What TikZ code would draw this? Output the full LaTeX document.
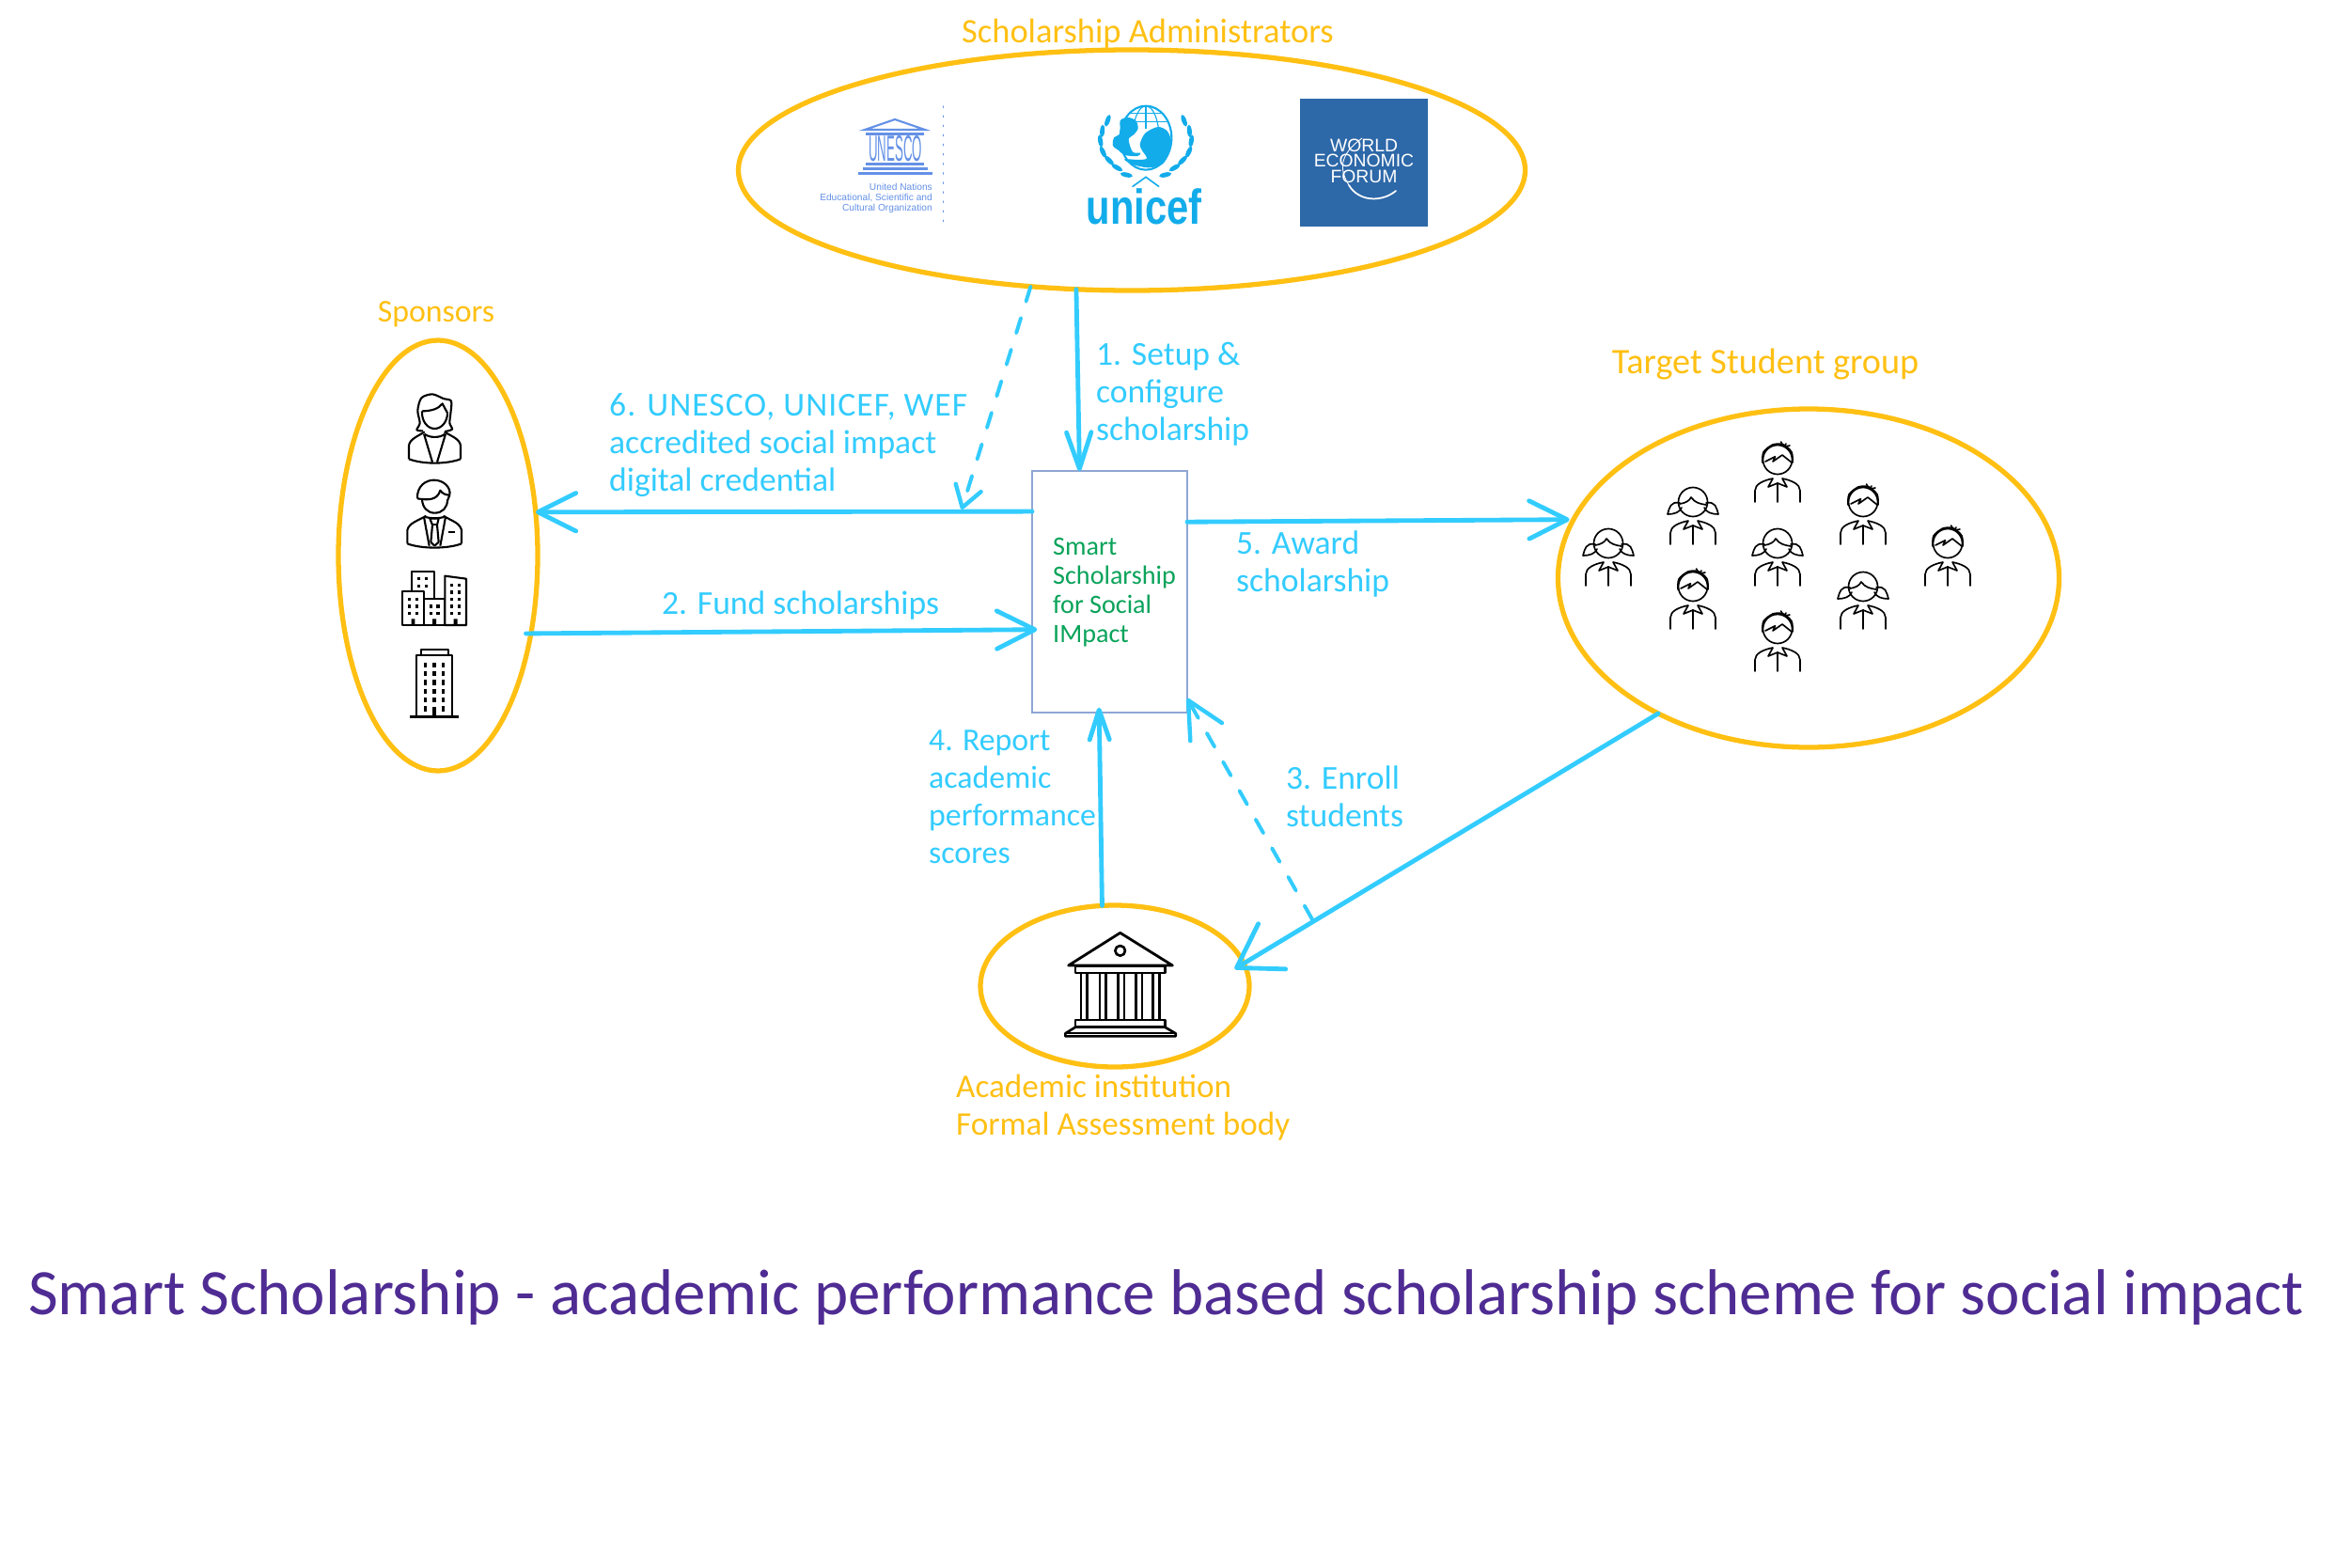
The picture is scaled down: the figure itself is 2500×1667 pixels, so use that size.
\documentclass[tikz,border=0pt]{standalone}
\usepackage{fontspec}
\setmainfont{Carlito}
\newfontfamily\logofont{Liberation Sans}
\usetikzlibrary{arrows.meta,shapes.geometric}
\definecolor{ringyellow}{HTML}{FFC013}
\definecolor{flowblue}{HTML}{33CCFF}
\definecolor{hubgreen}{HTML}{0AA35A}
\definecolor{titlepurple}{HTML}{4F2C93}
\definecolor{hubedge}{HTML}{8EA6D4}
\definecolor{unescoblue}{HTML}{6491E6}
\definecolor{unicefblue}{HTML}{12ACEA}
\definecolor{wefblue}{HTML}{2D68A8}
\newcommand{\strutA}{\rule{0pt}{31.9pt}}
\newcommand{\strutB}{\rule{0pt}{24pt}}
\newcommand{\strutC}{\rule{0pt}{17pt}}
\tikzset{
  ring/.style={ellipse,draw=ringyellow,line width=6pt,inner sep=0pt,outer sep=0pt},
  hubbox/.style={rectangle,draw=hubedge,line width=1.5pt,inner sep=0pt,outer sep=0pt,minimum width=165*0.04cm,minimum height=257*0.04cm},
  flow/.style={draw=flowblue,line width=5.5pt,line cap=round,-{Straight Barb[length=46pt,width=46pt,line width=5.5pt,round]}},
  narrowflow/.style={flow,-{Straight Barb[length=44pt,width=30pt,line width=5.5pt,round]}},
  wideflow/.style={flow,-{Straight Barb[length=50pt,width=64pt,line width=5.5pt,round]}},
  shortflow/.style={flow,-{Straight Barb[length=36pt,width=24pt,line width=5.5pt,round]}},
  dashflow/.style={draw=flowblue,line width=4.5pt,line cap=round,dash pattern=on 19pt off 21pt,-{Straight Barb[length=44pt,width=44pt,line width=5pt,round]}},
  shortdashflow/.style={dashflow,-{Straight Barb[length=25pt,width=32pt,line width=5pt,round]}},
  flowlab/.style={inner sep=0pt,anchor=north west,align=left,text=flowblue,font=\fontsize{40.5}{45.5}\selectfont},
  ringlab/.style={inner sep=0pt,align=left,text=ringyellow,font=\fontsize{40}{45.5}\selectfont},
  hublab/.style={inner sep=0pt,anchor=north west,align=left,text=hubgreen,font=\fontsize{32}{35.3}\selectfont},
  titlelab/.style={inner sep=0pt,anchor=base west,text=titlepurple,font=\fontsize{78.5}{80}\selectfont},
  icon/.style={draw=black,line width=2.4pt,line join=round,fill=none},
  thinicon/.style={draw=black,line width=1.9pt,line cap=round,line join=round},
  win/.style={fill=black,draw=none},
  pics/boy/.style={code={
    \draw[thinicon] (0,0) circle (15.5);
    \draw[thinicon] plot[smooth] coordinates {(-16,3) (-15,-8) (-5,-16) (6,-16) (15,-8) (16,3)};
    \draw[thinicon] (-13,2) -- (-2.5,-3.3) -- (-5,2) -- (5,-5) -- (15,3);
    \draw[thinicon] (3.5,-19) -- (6,-15) (9,-17) -- (7,-14) (13,-15) -- (8,-14);
    \draw[thinicon] (-24,45) -- (-24,33) .. controls (-24,26) and (-15,22) .. (-5,20) -- (-10,29) -- (0,25) -- (10,29) -- (5,20) .. controls (15,22) and (24,26) .. (24,33) -- (24,45);
    \draw[thinicon] (0,25) -- (0,45);
  }},
  pics/girl/.style={code={
    \draw[thinicon] (0,0) circle (15.5);
    \draw[thinicon] (-14,2) .. controls (-8,1) and (-4,-1) .. (-2,-5) .. controls (2,1) and (8,2) .. (14,3);
    \draw[thinicon] (-14,1) .. controls (-24,-1) and (-25,6) .. (-27,13) .. controls (-20,13) and (-14,11) .. (-12,6);
    \draw[thinicon] (14,1) .. controls (24,-1) and (25,6) .. (27,13) .. controls (20,13) and (14,11) .. (12,6);
    \draw[thinicon] (-24,45) -- (-24,33) .. controls (-24,26) and (-15,22) .. (-5,20) -- (-10,29) -- (0,25) -- (10,29) -- (5,20) .. controls (15,22) and (24,26) .. (24,33) -- (24,45);
    \draw[thinicon] (0,25) -- (0,45);
  }}
}
\begin{document}
\begin{tikzpicture}[x=0.04cm,y=-0.04cm]
\useasboundingbox (0,0) rectangle (2500,1667);
\fill[white] (0,0) rectangle (2500,1667);

% rings
\node[ring,minimum width=837*0.04cm,minimum height=256*0.04cm] (admin) at (1204,181) {};
\node[ring,minimum width=212*0.04cm,minimum height=458*0.04cm] (sponsors) at (466,591) {};
\node[ring,minimum width=533*0.04cm,minimum height=360*0.04cm] (target) at (1924,615) {};
\node[ring,minimum width=286*0.04cm,minimum height=172*0.04cm] (academic) at (1186,1049) {};
\node[hubbox] (hub) at (1180.5,629.5) {};
\coordinate (dashtip) at (1023,542);
\coordinate (enrollstart) at (1396,978);

% connectors
\draw[narrowflow] (admin.245.4) -- (hub.104.6);
\draw[shortdashflow] (admin.229.2) -- (dashtip);
\draw[flow] (hub.134.7) -- (sponsors.24);
\draw[flow,shorten <=-6pt,shorten >=-6pt] (sponsors.-40.2) -- (hub.206.7);
\draw[flow,shorten >=5pt] (hub.42.1) -- (target.166.7);
\draw[wideflow,shorten >=-13pt] (target.222.5) -- (academic.10.7);
\draw[shortflow,shorten >=-6pt] (academic.99.3) -- (hub.265.8);
\draw[dashflow] (enrollstart) -- (hub.-54.8);

% labels
\node[ringlab,anchor=base,font=\fontsize{41.5}{45.5}\selectfont] (adminlab) at (1221,45) {Scholarship Administrators};
\node[ringlab,anchor=base,font=\fontsize{38.5}{45.5}\selectfont] (sponsorlab) at (464,342) {Sponsors};
\node[ringlab,anchor=base,font=\fontsize{43.5}{45.5}\selectfont] (targetlab) at (1878,397) {Target Student group};
\node[ringlab,anchor=north west] (acadlab) at (1017,1139) {\strutA Academic institution\\Formal Assessment body};
\node[flowlab] (lab1) at (1166,360) {\strutA 1. Setup \&\\configure\\scholarship};
\node[flowlab] (lab6) at (648,414) {\strutA \addfontfeatures{LetterSpace=3}6. UNESCO, UNICEF, WEF\\accredited social impact\\digital credential};
\node[flowlab] (lab2) at (704,625) {\strutA 2. Fund scholarships};
\node[flowlab] (lab5) at (1315,561) {\strutA 5. Award\\scholarship};
\node[flowlab,font=\fontsize{38.5}{45.5}\selectfont] (lab4) at (988,770) {\strutA 4. Report\\academic\\performance\\scores};
\node[flowlab] (lab3) at (1368,811) {\strutA 3. Enroll\\students};
\node[hublab] (hublabel) at (1120,569) {\strutB Smart\\Scholarship\\for Social\\IMpact};
\node[titlelab] (title) at (30,1398) {Smart Scholarship - academic performance based scholarship scheme for social impact};

% UNESCO logo
\begin{scope}[unescoblue]
  \draw[line width=2.4pt,line join=miter] (920,138) -- (952,127) -- (984,138) -- cycle;
  \fill (921,141) rectangle (983,143.5);
  \node[inner sep=0pt,text=unescoblue] (unescoword) at (952.5,158.5) {\logofont\scalebox{0.72}[2.1]{\fontsize{21}{21}\selectfont UNESCO}};
  \fill (921,173) rectangle (983,175.5);
  \fill (918,178) rectangle (987,180.5);
  \fill (913,183) rectangle (992,186);
  \draw[line width=1.6pt,line cap=round,dash pattern=on 1.5pt off 10pt] (1003.5,113) -- (1003.5,238);
  \node[inner sep=0pt,anchor=north east,align=right,text=unescoblue,font=\logofont\fontsize{11.6}{12.6}\selectfont] (unescotext) at (992,195) {United Nations\\Educational, Scientific and\\Cultural Organization};
\end{scope}

% UNICEF logo (crop coordinates, 3 units per pixel)
\begin{scope}[shift={(1150,100)},x=0.04cm/3,y=-0.04cm/3,unicefblue]
  \draw[line width=2.4pt] (207,140) ellipse (82 and 102);
  \begin{scope}
    \clip (120,35) rectangle (295,108);
    \draw[line width=1.3pt] (207,140) ellipse (42 and 102);
    \draw[line width=1.3pt] (207,38) -- (207,110);
    \draw[line width=1.3pt] (155,62) -- (260,62) (175,88) -- (280,88);
  \end{scope}
  \fill plot[smooth cycle] coordinates {(125,85) (150,75) (175,85) (182,110) (168,130) (152,145) (165,185) (190,188) (180,198) (140,195) (120,180) (102,165) (105,140) (125,125)};
  \fill plot[smooth cycle] coordinates {(245,105) (275,118) (287,150) (278,195) (258,225) (215,235) (165,225) (138,208) (185,210) (210,205) (195,180) (188,160) (205,125)};
  \foreach \lfx/\lfy/\lfr in {85/85/-20,68/118/-5,62/150/10,70/185/25,90/212/45,115/235/60,145/258/78} {
    \pgfmathsetmacro{\lfm}{414-\lfx}
    \fill[shift={(\lfx,\lfy)},rotate=\lfr] (0,0) ellipse (7.5 and 20);
    \fill[shift={(\lfm,\lfy)},rotate=-\lfr] (0,0) ellipse (7.5 and 20);
  }
  \draw[line width=1.8pt,line cap=round] (165,295) -- (207,265) -- (248,295);
  \node[inner sep=0pt,anchor=base,text=unicefblue] (unicefword) at (201,415) {\logofont\bfseries\fontsize{54}{54}\selectfont\scalebox{0.88}[1.1]{unicef}};
\end{scope}

% WEF logo
\fill[wefblue] (1383,105) rectangle (1519,241);
\node[inner sep=0pt,anchor=north,align=center,text=white,font=\logofont\fontsize{22}{19}\selectfont] (weftext) at (1451,146) {\strutC WORLD\\ECONOMIC\\FORUM};
\draw[white,line width=1pt] (1449,147) .. controls (1431,160) and (1421,175) .. (1435,197);
\draw[white,line width=2pt,line cap=round] (1435,197) .. controls (1445,214) and (1469,216) .. (1485,203);

% sponsors icons (crop coordinates, 3 units per pixel)
\begin{scope}[shift={(350,350)},x=0.04cm/3,y=-0.04cm/3]
  % woman
  \draw[icon] plot[smooth] coordinates {(300,325) (280,322) (290,300) (283,260) (295,220) (330,208) (365,222) (390,230) (388,270) (385,300) (393,320) (370,327)};
  \draw[icon] (297,262) .. controls (325,262) and (350,255) .. (362,238) .. controls (368,250) and (374,260) .. (378,268);
  \draw[icon] (297,262) .. controls (295,295) and (315,318) .. (337,318) .. controls (360,318) and (378,295) .. (378,268);
  \draw[icon] (255,415) -- (255,372) .. controls (258,350) and (285,342) .. (305,328);
  \draw[icon] (420,415) -- (420,372) .. controls (417,350) and (390,342) .. (368,328);
  \draw[icon] (255,415) .. controls (300,432) and (375,432) .. (420,415);
  \draw[icon] (303,335) -- (330,425) (372,335) -- (345,425) (305,335) .. controls (320,348) and (355,348) .. (370,335);
  % man
  \draw[icon] (282,541) .. controls (280,500) and (310,482) .. (335,482) .. controls (365,482) and (390,505) .. (385,530) -- (378,548);
  \draw[icon] (282,541) .. controls (310,545) and (345,550) .. (355,515) .. controls (362,525) and (372,530) .. (385,530);
  \draw[icon] (297,543) .. controls (298,570) and (315,587) .. (337,587) .. controls (362,587) and (378,570) .. (378,545);
  \draw[icon] (250,685) -- (250,642) .. controls (255,618) and (285,612) .. (310,596);
  \draw[icon] (423,685) -- (423,642) .. controls (418,618) and (390,612) .. (365,596);
  \draw[icon] (250,685) .. controls (295,702) and (378,702) .. (423,685);
  \draw[icon] (303,600) -- (320,692) (372,600) -- (355,692) (308,600) .. controls (325,605) and (350,605) .. (367,600);
  \draw[icon] (322,605) -- (350,605) -- (345,625) -- (350,680) -- (337,692) -- (325,680) -- (330,625) -- cycle;
  \draw[icon] (330,625) -- (345,625) (380,648) -- (402,648);
  % office cluster
  \draw[icon] (265,838) -- (265,773) -- (335,773) -- (335,860);
  \draw[icon] (233,838) rectangle (303,945);
  \draw[icon] (303,860) rectangle (370,945);
  \draw[icon] (370,945) -- (370,788) -- (438,797) -- (438,945) -- cycle;
  \foreach \wx/\wy in {287/797,310/797,287/820,310/820,257/862,280/862,257/885,280/885,257/907,280/907,325/885,348/885,325/907,348/907,392/817,415/817,392/840,415/840,392/862,415/862,392/885,415/885,392/907,415/907}
    \fill[win] (\wx-5,\wy-5) rectangle (\wx+5,\wy+5);
  \fill[win] (263,925) rectangle (274,945) (330,925) rectangle (342,945) (398,925) rectangle (410,945);
  % tower
  \draw[icon] (280,1238) -- (280,1040) -- (393,1040) -- (393,1238);
  \draw[icon] (293,1040) -- (293,1023) -- (380,1023) -- (380,1040);
  \draw[icon,line width=3pt] (258,1238) -- (415,1238);
  \foreach \wy in {1072,1100,1128,1156,1184,1212} {
    \fill[win] (303,\wy-8) rectangle (313,\wy+8);
    \fill[win] (359,\wy-8) rectangle (369,\wy+8);
  }
  \foreach \wy in {1072,1100,1128,1156,1184}
    \fill[win] (331,\wy-8) rectangle (341,\wy+8);
  \fill[win] (330,1205) rectangle (343,1238);
\end{scope}

% students
\pic at (1711,578) {girl};
\pic at (1801,534) {girl};
\pic at (1801,624) {boy};
\pic at (1891,489) {boy};
\pic at (1891,578) {girl};
\pic at (1891,669) {boy};
\pic at (1982,534) {boy};
\pic at (1982,624) {girl};
\pic at (2072,578) {boy};

% institution icon
\begin{scope}[shift={(1020,950)},x=0.04cm/3,y=-0.04cm/3]
  \draw[icon,line width=3.2pt] (350,231) -- (515,127) -- (682,231) -- cycle;
  \draw[icon,line width=3pt] (515,184) circle (16);
  \draw[icon,line width=3pt] (372,232) rectangle (658,255);
  \foreach \cx in {400,460,518,575,630}
    \draw[icon,line width=3pt] (\cx-10,255) -- (\cx-10,405) (\cx+10,255) -- (\cx+10,405);
  \draw[icon,line width=3pt] (372,405) rectangle (658,428);
  \draw[icon,line width=3pt] (372,428) -- (340,448) -- (340,457) -- (692,457) -- (692,448) -- (658,428);
  \draw[icon,line width=2.4pt] (340,447) -- (692,447);
\end{scope}
\end{tikzpicture}
\end{document}
